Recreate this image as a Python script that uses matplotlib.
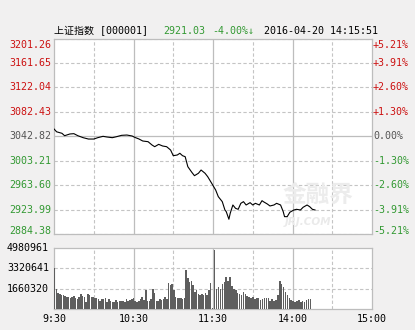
import numpy as np
import matplotlib
matplotlib.use('Agg')
import matplotlib.pyplot as plt

# Shanghai composite, intraday 2016-04-20
prev_close = 3042.82
price_levels = [3201.26, 3161.65, 3122.04, 3082.43, 3042.82, 3003.21, 2963.60, 2923.99, 2884.38]
pct_labels = ['+5.21%', '+3.91%', '+2.60%', '+1.30%', '0.00%', '-1.30%', '-2.60%', '-3.91%', '-5.21%']
vol_levels = [4980961, 3320641, 1660320]
time_ticks = [0, 60, 120, 180, 240]
time_labels = ['9:30', '10:30', '11:30', '14:00', '15:00']

# minutes after 9:30 (lunch break removed)
minutes = [0, 2, 6, 8, 12, 15, 18, 22, 26, 30, 33, 37, 40, 44, 47, 51, 55, 59, 61, 64,
           67, 71, 74, 76, 79, 82, 85, 88, 90, 93, 95, 97, 99, 101, 104, 106, 109, 111, 114, 116,
           119, 122, 124, 127, 129, 130, 132, 133, 135, 137, 139, 141, 143, 145, 148, 150, 152, 155, 157, 158,
           161, 163, 166, 168, 171, 173, 174, 176, 178, 181, 183, 186, 188, 191, 193, 195, 197]
price = [3054.6, 3050.0, 3047.6, 3043.7, 3046.5, 3047.0, 3043.7, 3040.5, 3038.3, 3038.3,
         3040.5, 3042.7, 3041.6, 3040.5, 3042.0, 3044.3, 3044.8, 3043.2, 3041.0, 3038.5,
         3035.1, 3034.0, 3028.6, 3025.9, 3029.7, 3027.0, 3025.9, 3020.5, 3011.3, 3012.4,
         3015.2, 3011.3, 3009.7, 2993.5, 2984.4, 2978.9, 2982.8, 2988.1, 2982.8, 2977.3,
         2966.6, 2955.7, 2944.9, 2936.8, 2923.3, 2920.6, 2908.3, 2918.0, 2931.4, 2926.0,
         2924.4, 2934.1, 2936.8, 2931.4, 2935.2, 2931.4, 2934.1, 2931.4, 2938.4, 2936.8,
         2933.0, 2929.8, 2931.4, 2934.1, 2931.4, 2920.6, 2912.5, 2912.5, 2919.6, 2923.3,
         2924.4, 2923.3, 2927.7, 2931.4, 2928.6, 2924.4, 2923.3]

# volume, in units of 10k
vol_am = [337, 161, 132, 121, 113, 113, 108, 100, 95, 87, 100, 105, 90, 79, 100, 126, 105, 100, 61, 121,
          113, 100, 95, 87, 87, 79, 69, 79, 79, 90, 61, 79, 69, 61, 55, 74, 61, 69, 69, 69,
          61, 79, 69, 74, 79, 87, 63,
          61, 66, 79, 95, 74, 158, 69, 66, 79, 166, 132, 69, 66, 79, 74, 79, 95, 79, 211, 192,
          206, 158, 100, 87, 87, 87, 79, 87, 316, 253, 219, 227, 192, 140, 158, 126, 113, 121, 113,
          132, 113, 158, 211, 8]
vol_pm = [480, 166, 179, 166, 206, 219,
          258, 232, 264, 184, 166, 158, 132, 126, 113, 140, 121, 105, 95, 87, 95, 79, 87, 87, 74,
          79, 87, 87, 87, 69, 79, 69, 74, 113, 227, 206, 179, 140, 113, 87, 74, 69, 61, 69, 74,
          61, 69, 61, 74, 82, 79]

red = '#cc1111'
green = '#339933'
grey = '#555555'
grid_c = '#c4c4c4'
mono = 'DejaVu Sans Mono'
fs = 7.2

fig = plt.figure(figsize=(4.15, 3.30), dpi=100)
fig.patch.set_facecolor('#f1f0f0')

W, H = 415.0, 330.0
ax = fig.add_axes([54 / W, (H - 234) / H, 318 / W, 195.5 / H])
axv = fig.add_axes([54 / W, (H - 309) / H, 318 / W, 61 / H])

for a in (ax, axv):
    a.set_facecolor('white')
    a.set_xlim(0, 240)
    a.set_xticks([])
    a.set_yticks([])
    for s in a.spines.values():
        s.set_color('#bdbdbd')
        s.set_linewidth(0.9)
    for m in [30, 90, 150, 210]:
        a.axvline(m, color=grid_c, lw=0.8, ls=(0, (3, 2)), zorder=0)
    for m in [60, 120, 180]:
        a.axvline(m, color='#bdbdbd', lw=0.9, zorder=0)

ax.set_ylim(price_levels[-1], price_levels[0])
for i, lv in enumerate(price_levels):
    if lv == prev_close:
        ax.axhline(lv, color='#bdbdbd', lw=0.9, zorder=0)
        c = grey
    else:
        ax.axhline(lv, color=grid_c, lw=0.8, ls=(0, (3, 2)), zorder=0)
        c = red if lv > prev_close else green
    off = 0
    if i == 0:
        off = -6
    elif i == len(price_levels) - 1:
        off = 3
    ax.annotate('%.2f' % lv, xy=(0, lv), xycoords=('axes fraction', 'data'),
                xytext=(-3, off), textcoords='offset pixels',
                ha='right', va='center', color=c, family=mono, fontsize=fs)
    ax.annotate(pct_labels[i], xy=(1, lv), xycoords=('axes fraction', 'data'),
                xytext=(1, off), textcoords='offset pixels',
                ha='left', va='center', color=c, family=mono, fontsize=fs)

# watermark
ax.text(0.83, 0.2, '金融界', transform=ax.transAxes, ha='center', va='center',
        fontsize=17, fontweight='bold', color='#ececec', family='Noto Sans CJK SC', zorder=1)
ax.text(0.80, 0.06, 'JRJ.COM', transform=ax.transAxes, ha='center', va='center',
        fontsize=7.5, style='italic', fontweight='bold', color='#eaeaea', zorder=1)

ax.plot(minutes, price, color='black', lw=0.8, zorder=3)

# volume
x_am = np.linspace(0.5, 119.5, len(vol_am))
x_pm = np.linspace(121.3, 193.5, len(vol_pm))
axv.bar(x_am, np.array(vol_am) * 1e4, width=1.15, color='#5e5e5e', zorder=3)
axv.bar(x_pm, np.array(vol_pm) * 1e4, width=1.15, color='#5e5e5e', zorder=3)
axv.set_ylim(0, vol_levels[0])
for lv in vol_levels[1:]:
    axv.axhline(lv, color=grid_c, lw=0.8, ls=(0, (3, 2)), zorder=0)
for lv in vol_levels:
    axv.annotate(str(lv), xy=(0, lv), xycoords=('axes fraction', 'data'),
                 xytext=(-5, 0), textcoords='offset pixels',
                 ha='right', va='center', color='black', family=mono, fontsize=fs)
for t, lab in zip(time_ticks, time_labels):
    axv.annotate(lab, xy=(t, 0), xycoords=('data', 'axes fraction'),
                 xytext=(0, -10), textcoords='offset pixels',
                 ha='center', va='center', color='black', family=mono, fontsize=fs)

# header line
ty = (H - 31) / H
fig.text(54 / W, ty, '上证指数 [000001]', ha='left', va='center', fontsize=fs,
         family=[mono, 'Noto Sans CJK SC'], color='black')
fig.text(163 / W, ty, '2921.03', ha='left', va='center', fontsize=fs, family=mono, color=green)
fig.text(212 / W, ty, '-4.00%↓', ha='left', va='center', fontsize=fs,
         family=[mono, 'DejaVu Sans'], color=green)
fig.text(264 / W, ty, '2016-04-20 14:15:51', ha='left', va='center', fontsize=fs,
         family=mono, color='black')

fig.savefig('out.png', dpi=100, facecolor=fig.get_facecolor())
